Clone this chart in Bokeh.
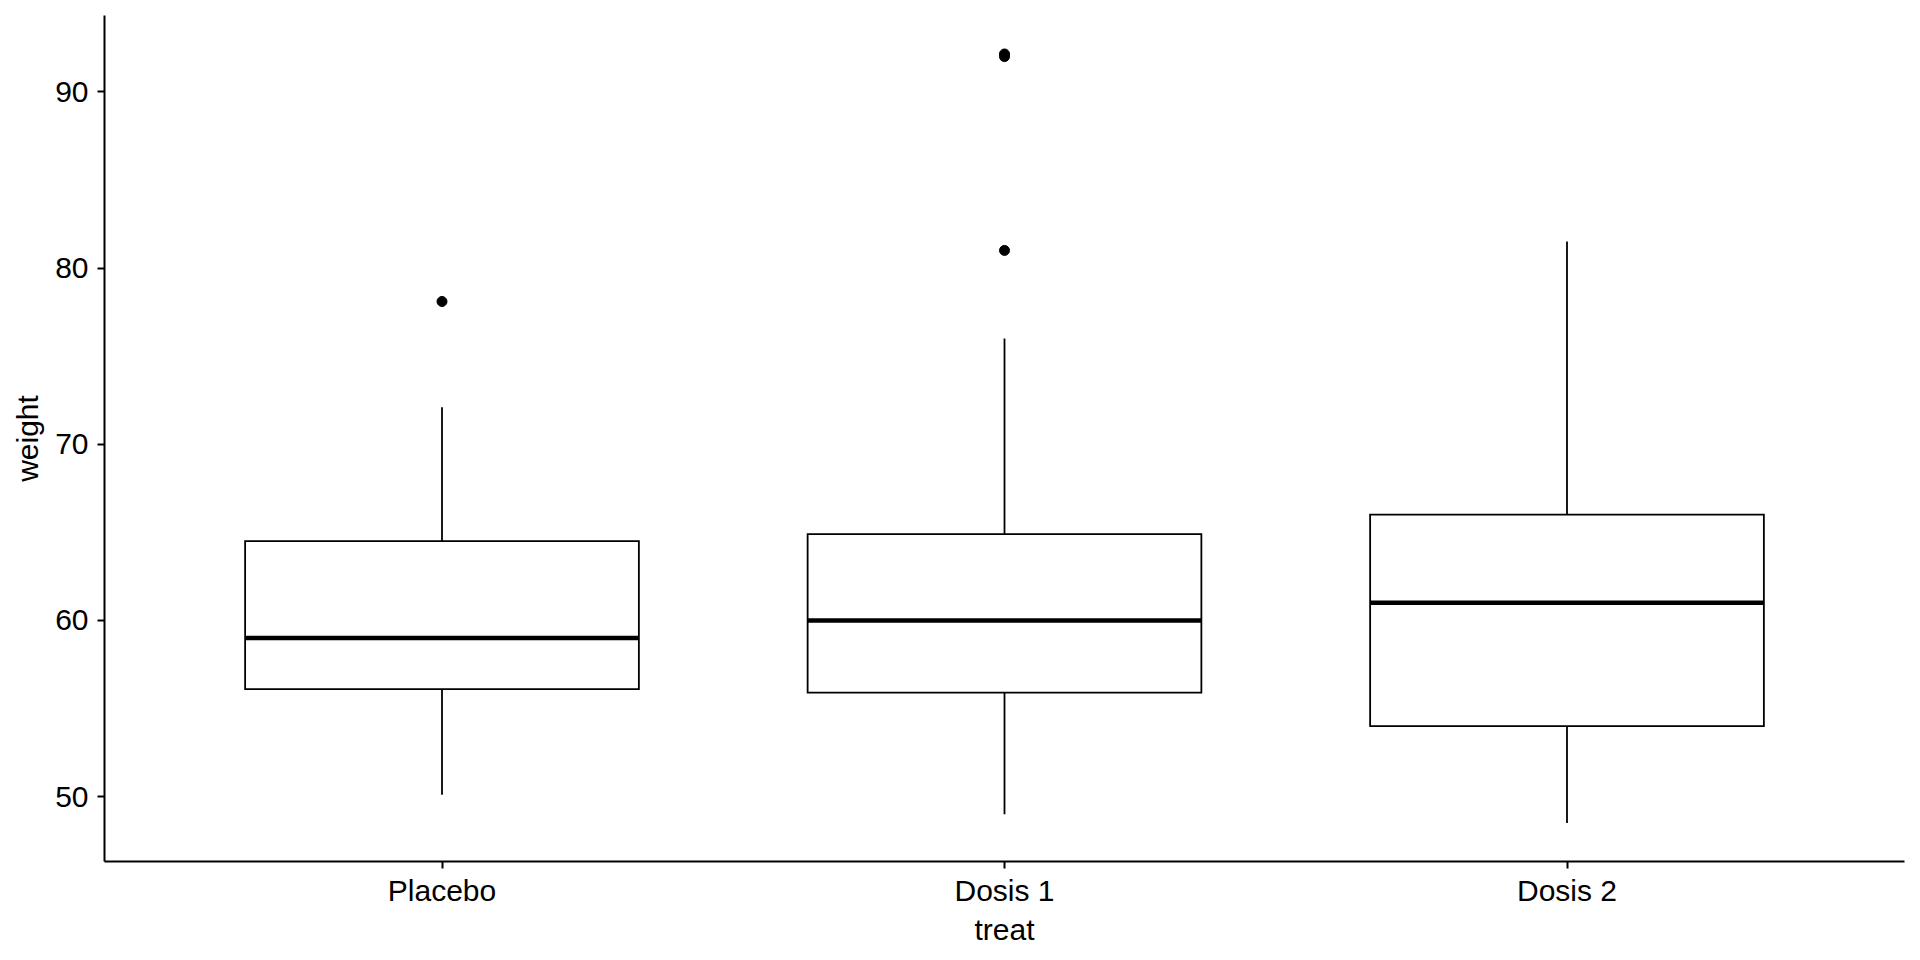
from bokeh.plotting import figure
from bokeh.models import Range1d, FixedTicker
from bokeh.embed import file_html
from bokeh.resources import INLINE

# ---- data ----
categories = ["Placebo", "Dosis 1", "Dosis 2"]
whisker_low = [50.1, 49.0, 48.5]
quartile_1 = [56.1, 55.9, 54.0]
medians = [59.0, 60.0, 61.0]
quartile_3 = [64.5, 64.9, 66.0]
whisker_high = [72.1, 76.0, 81.5]
outlier_treat = ["Placebo", "Dosis 1", "Dosis 1", "Dosis 1"]
outlier_weight = [78.1, 81.0, 92.0, 92.15]
y_ticks = [50, 60, 70, 80, 90]

# ---- scales ----
pos = {c: i + 1 for i, c in enumerate(categories)}
xs = [pos[c] for c in categories]
half = 0.35  # half box width (box width 0.7 of category spacing)

all_vals = whisker_low + whisker_high + outlier_weight
lo, hi = min(all_vals), max(all_vals)
pad = 0.05 * (hi - lo)

FONT = "Liberation Sans"

p = figure(width=1920, height=960, output_backend="svg", toolbar_location=None,
           x_range=Range1d(0.4, len(categories) + 0.6),
           y_range=Range1d(lo - pad, hi + pad),
           min_border_left=104, min_border_right=16, min_border_top=15, min_border_bottom=99,
           background_fill_color="white", border_fill_color="white")
p.outline_line_color = None
p.xgrid.grid_line_color = None
p.ygrid.grid_line_color = None

# whiskers
p.segment(x0=xs, x1=xs, y0=quartile_3, y1=whisker_high, line_color="black", line_width=1.8)
p.segment(x0=xs, x1=xs, y0=quartile_1, y1=whisker_low, line_color="black", line_width=1.8)

# boxes
p.quad(left=[x - half for x in xs], right=[x + half for x in xs],
       top=quartile_3, bottom=quartile_1,
       fill_color="white", line_color="black", line_width=1.8, line_join="miter")

# medians
p.segment(x0=[x - half for x in xs], x1=[x + half for x in xs], y0=medians, y1=medians,
          line_color="black", line_width=4.5, line_cap="butt")

# outliers
p.scatter(x=[pos[c] for c in outlier_treat], y=outlier_weight, size=10,
          fill_color="black", line_color="black")

# axes
p.xaxis.ticker = FixedTicker(ticks=xs)
p.xaxis.major_label_overrides = {x: c for x, c in zip(xs, categories)}
p.yaxis.ticker = FixedTicker(ticks=y_ticks)
p.xaxis.axis_label = "treat"
p.yaxis.axis_label = "weight"

for ax in (p.xaxis, p.yaxis):
    ax.axis_line_width = 2
    ax.axis_line_color = "black"
    ax.major_tick_line_width = 2
    ax.major_tick_line_color = "black"
    ax.major_tick_out = 7
    ax.major_tick_in = 0
    ax.minor_tick_line_color = None
    ax.major_label_text_font = FONT
    ax.major_label_text_font_size = "30px"
    ax.major_label_text_color = "black"
    ax.axis_label_text_font = FONT
    ax.axis_label_text_font_size = "30px"
    ax.axis_label_text_font_style = "normal"
    ax.axis_label_text_color = "black"

p.xaxis.major_label_standoff = 5
p.xaxis.axis_label_standoff = 3
p.yaxis.major_label_standoff = 9
p.yaxis.axis_label_standoff = 8

open("out.html", "w").write(file_html(p, INLINE))
